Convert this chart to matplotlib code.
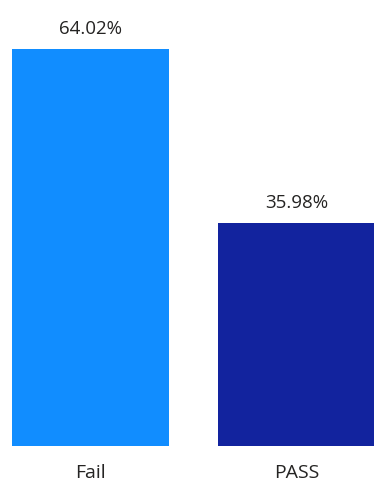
import matplotlib.pyplot as plt

categories = ['Fail', 'PASS']
shares = [64.02, 35.98]
colors = ['#118DFF', '#12239E']

plt.rcParams['font.family'] = ['Open Sans', 'DejaVu Sans']

fig = plt.figure(figsize=(3.74, 4.81), dpi=100)
# plot area: bars start at the very top-left, baseline 34 px above the bottom edge
ax = fig.add_axes([0, 34 / 481, 1, 447 / 481])

xs = range(len(categories))
bars = ax.bar(xs, shares, width=0.76, color=colors)

for b, v in zip(bars, shares):
    ax.text(b.get_x() + b.get_width() / 2, v + 1.9, '{0:.2f}%'.format(v),
            ha='center', va='bottom', fontsize=13.5, color='#252423')

ax.set_xlim(-0.438, 1.373)
ax.set_ylim(0, 72.08)
ax.set_xticks(list(xs))
ax.set_xticklabels(categories, fontsize=14, color='#252423')
ax.tick_params(axis='x', length=0, pad=12)
ax.set_yticks([])
for s in ax.spines.values():
    s.set_visible(False)

fig.savefig('out.png', dpi=100)
